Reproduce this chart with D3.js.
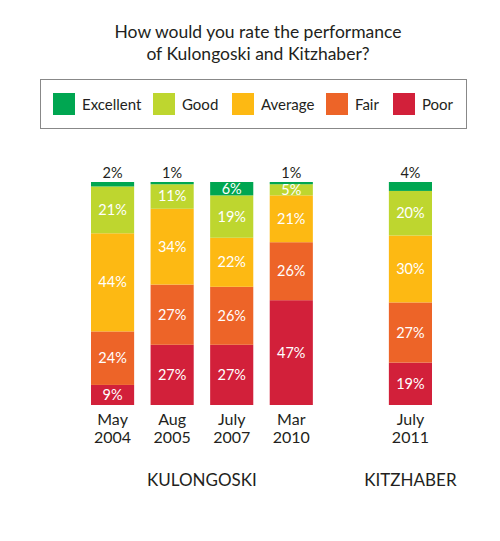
<!DOCTYPE html>
<html><head><meta charset="utf-8">
<script src="https://cdn.jsdelivr.net/npm/d3@7"></script>
<style>body{margin:0;background:#fff}svg{display:block}</style>
</head><body>
<script>
const categories = ["May 2004","Aug 2005","July 2007","Mar 2010","July 2011"];
const ratings = ["Excellent","Good","Average","Fair","Poor"];
const excellent = [2,1,6,1,4];
const good = [21,11,19,5,20];
const average = [44,34,22,21,30];
const fair = [24,27,26,26,27];
const poor = [9,27,27,47,19];
const colors = ["#00a651","#bed62f","#fdb913","#ed6428","#d2203a"];
const title = ["How would you rate the performance","of Kulongoski and Kitzhaber?"];

const W=500,H=541;
const font="Lato, 'Open Sans', sans-serif";
const ink="#231f20";
const svg=d3.select("body").append("svg").attr("width",W).attr("height",H);

// title
svg.append("g").selectAll("text").data(title).join("text")
  .attr("x",258).attr("y",(d,i)=>38+i*22).attr("text-anchor","middle")
  .attr("font-family",font).attr("font-size",17.5).attr("fill",ink).text(d=>d);

// legend
svg.append("rect").attr("x",40.5).attr("y",79.5).attr("width",426).attr("height",49)
  .attr("fill","none").attr("stroke","#888").attr("stroke-width",1);
const legX=[53,153,232,326,393];
const lg=svg.append("g").selectAll("g").data(ratings).join("g")
  .attr("transform",(d,i)=>`translate(${legX[i]},93)`);
lg.append("rect").attr("width",22).attr("height",22).attr("fill",(d,i)=>colors[i]);
lg.append("text").attr("x",29).attr("y",16.5).attr("font-family",font).attr("font-size",15)
  .attr("fill",ink).text(d=>d);

// data stacking
const table=categories.map((c,i)=>({cat:c,Excellent:excellent[i],Good:good[i],Average:average[i],Fair:fair[i],Poor:poor[i]}));
const stackOrder=["Poor","Fair","Average","Good","Excellent"];
const series=d3.stack().keys(stackOrder)(table);

const slots=["May 2004","Aug 2005","July 2007","Mar 2010","_gap","July 2011"];
const x=d3.scaleBand().domain(slots).range([91,432]).paddingInner(0.276).paddingOuter(0);
const y=d3.scaleLinear().domain([0,100]).range([405,182]);
const color=d3.scaleOrdinal().domain(ratings).range(colors);

const bw=x.bandwidth();
const sg=svg.append("g").selectAll("g").data(series).join("g").attr("fill",d=>color(d.key));
sg.selectAll("rect").data(d=>d.map(v=>({key:d.key,cat:v.data.cat,y0:v[0],y1:v[1]}))).join("rect")
  .attr("x",d=>x(d.cat)).attr("width",bw)
  .attr("y",d=>y(d.y1)).attr("height",d=>y(d.y0)-y(d.y1));

// labels
const labels=[];
series.forEach(s=>s.forEach(v=>{
  const val=v[1]-v[0];
  labels.push({cat:v.data.cat,val,y0:v[0],y1:v[1],outside:val<5});
}));
svg.append("g").selectAll("text").data(labels).join("text")
  .attr("x",d=>x(d.cat)+bw/2)
  .attr("y",d=>d.outside? y(d.y1)-4 : (y(d.y0)+y(d.y1))/2+5)
  .attr("text-anchor","middle").attr("font-family",font).attr("font-size",14.5)
  .attr("fill",d=>d.outside?ink:"#fff").text(d=>d.val+"%");

// category labels
const cl=svg.append("g").selectAll("text").data(categories).join("text")
  .attr("text-anchor","middle").attr("font-family",font).attr("font-size",16).attr("fill",ink)
  .attr("transform",d=>`translate(${x(d)+bw/2},425)`);
cl.selectAll("tspan").data(d=>d.split(" ")).join("tspan")
  .attr("x",0).attr("dy",(d,i)=>i?18:0).text(d=>d);

// group labels
const gl=[{name:"KULONGOSKI",cats:categories.slice(0,4)},{name:"KITZHABER",cats:categories.slice(4)}];
svg.append("g").selectAll("text").data(gl).join("text")
  .attr("x",d=>(x(d.cats[0])+x(d.cats[d.cats.length-1])+bw)/2)
  .attr("y",486).attr("text-anchor","middle").attr("font-family",font).attr("font-size",17)
  .attr("fill",ink).text(d=>d.name);
</script>
</body></html>
